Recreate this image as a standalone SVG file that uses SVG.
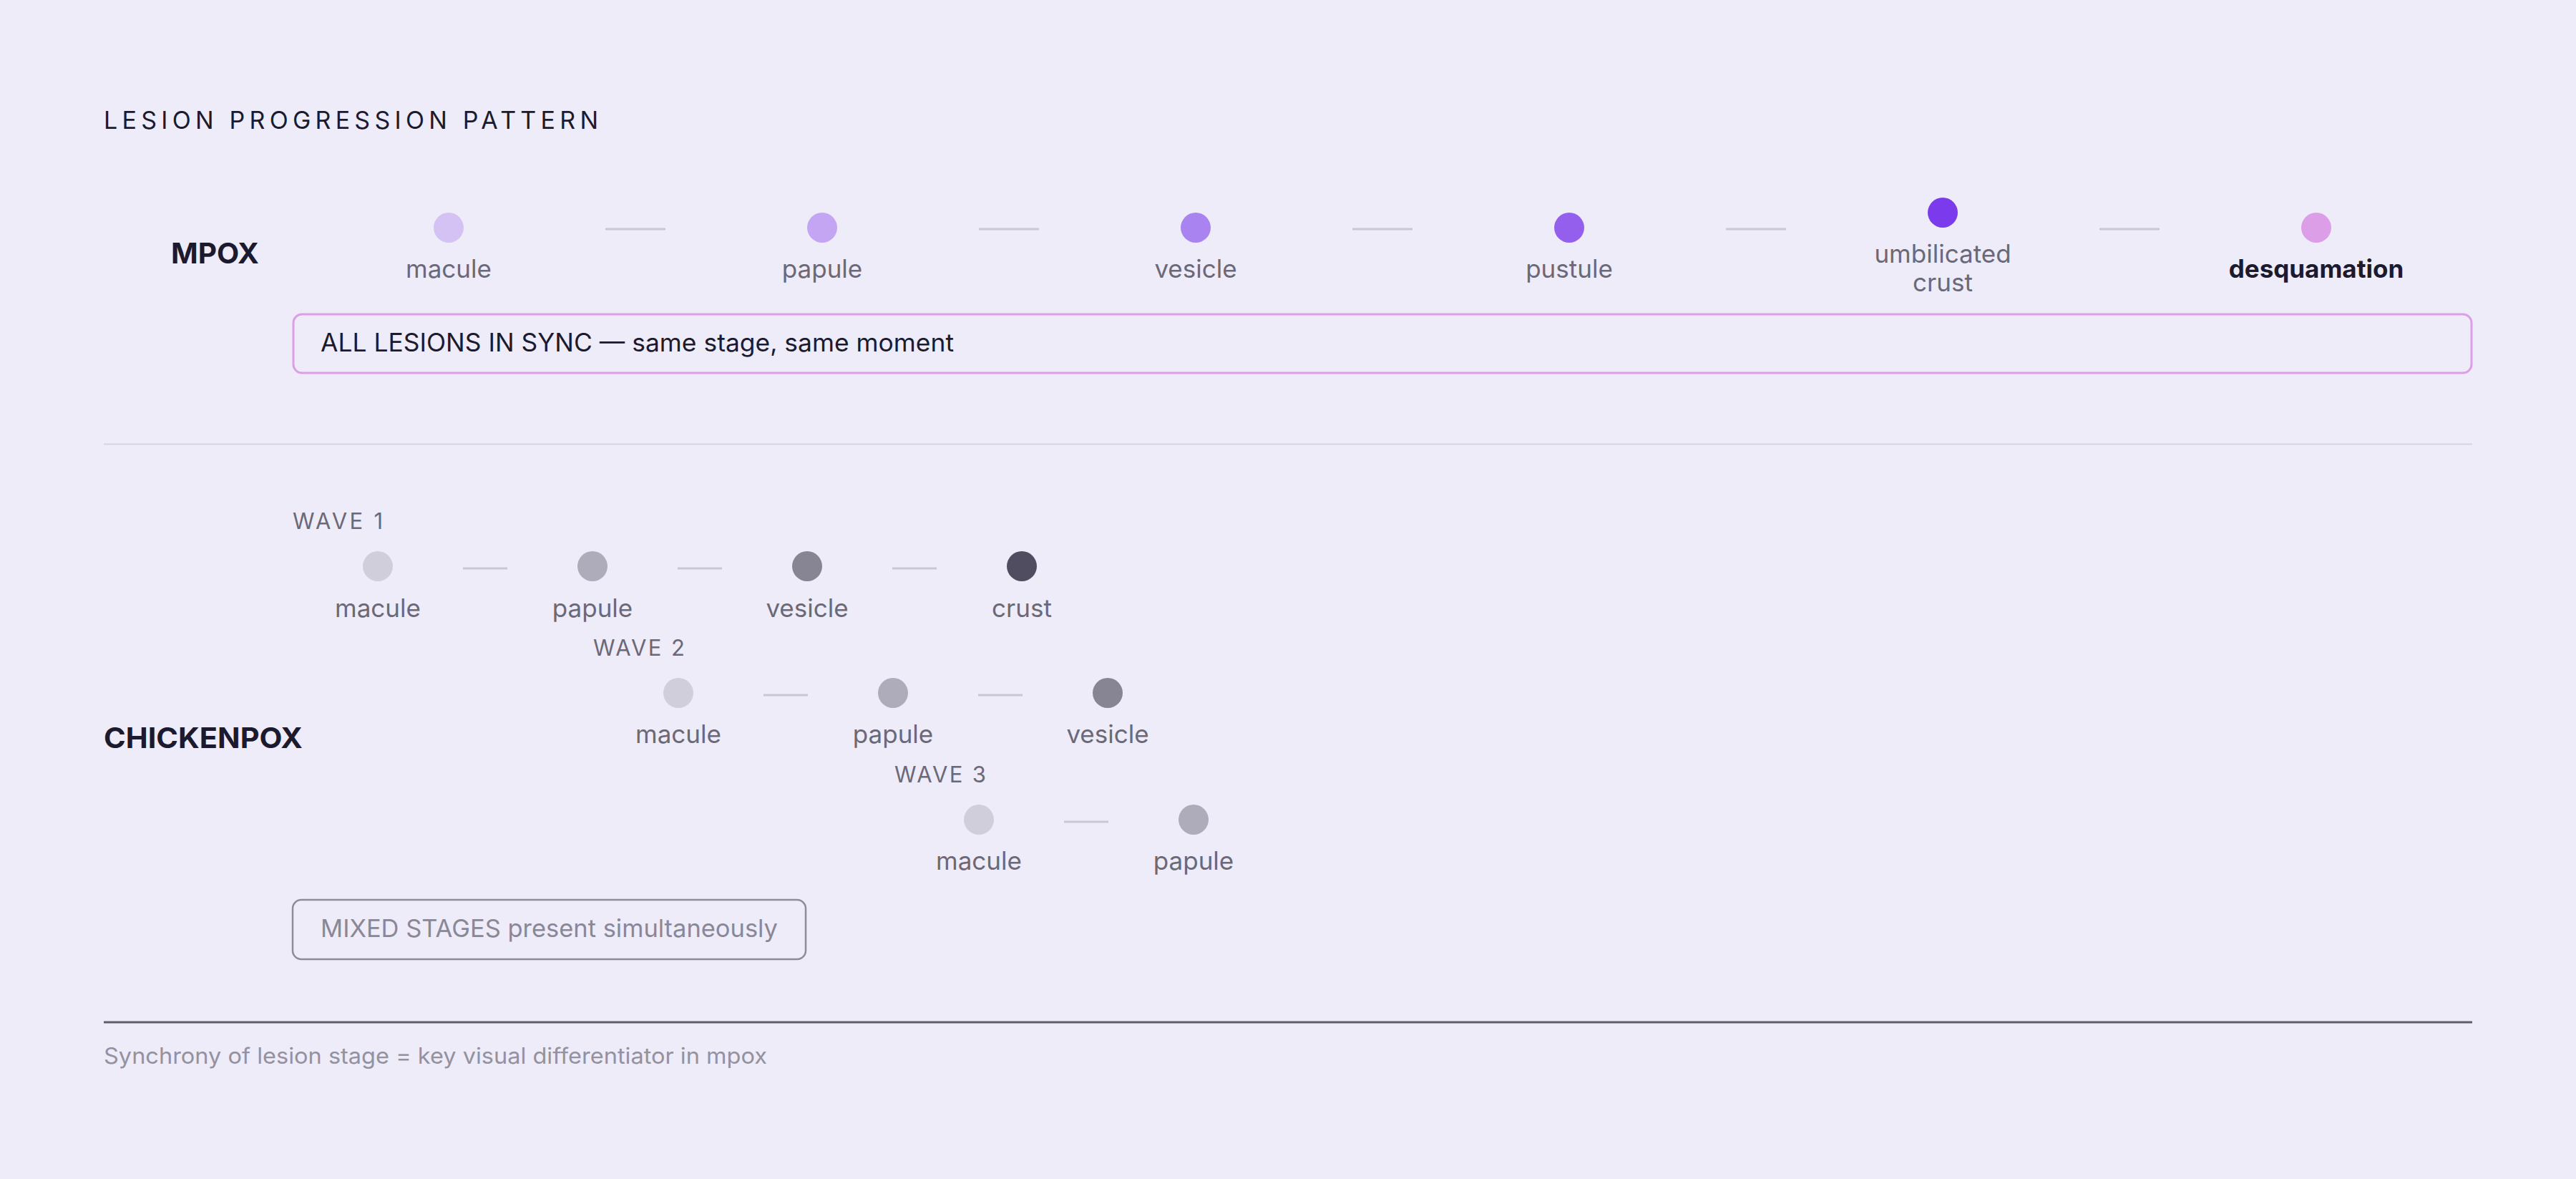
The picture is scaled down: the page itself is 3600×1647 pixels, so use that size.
<svg xmlns="http://www.w3.org/2000/svg" width="3600" height="1647" viewBox="0 0 3600 1647">
<style>
  text { font-family: Inter, "DejaVu Sans", sans-serif; }
  .title { font-size: 34px; fill: #1c1a2e; letter-spacing: 7px; }
  .row { font-size: 40px; font-weight: 700; fill: #1c1a2e; }
  .lbl { font-size: 35px; fill: #6b6878; text-anchor: middle; }
  .lblb { font-size: 35px; fill: #1c1a2e; font-weight: 700; text-anchor: middle; }
  .wave { font-size: 31px; fill: #6b6878; letter-spacing: 5px; }
  .conn { stroke: #c9c7d4; stroke-width: 3; }
  .boxtxt { font-size: 35px; fill: #1c1a2e; }
  .mixtxt { font-size: 34px; fill: #8a8796; }
  .foot { font-size: 31px; fill: #9491a0; }
</style>
<rect width="3600" height="1647" fill="#eeecf9"/>
<text class="title" x="145" y="180" textLength="698" lengthAdjust="spacing">LESION PROGRESSION PATTERN</text>

<g id="mpox-label"><text class="row" x="239" y="368" textLength="123" lengthAdjust="spacingAndGlyphs">MPOX</text></g>

<g id="connectors">
  <line class="conn" x1="846" y1="320" x2="930" y2="320"/>
  <line class="conn" x1="1368" y1="320" x2="1452" y2="320"/>
  <line class="conn" x1="1890" y1="320" x2="1974" y2="320"/>
  <line class="conn" x1="2412" y1="320" x2="2496" y2="320"/>
  <line class="conn" x1="2934" y1="320" x2="3018" y2="320"/>
  <line class="conn" x1="647" y1="794" x2="709" y2="794"/>
  <line class="conn" x1="947" y1="794" x2="1009" y2="794"/>
  <line class="conn" x1="1247" y1="794" x2="1309" y2="794"/>
  <line class="conn" x1="1067" y1="971" x2="1129" y2="971"/>
  <line class="conn" x1="1367" y1="971" x2="1429" y2="971"/>
  <line class="conn" x1="1487" y1="1148" x2="1549" y2="1148"/>
</g>

<g id="mpox-macule"><circle cx="627" cy="318" r="21" fill="#d4c2f5"/><text class="lbl" x="627" y="388">macule</text></g>
<g id="mpox-papule"><circle cx="1149" cy="318" r="21" fill="#c4a5f3"/><text class="lbl" x="1149" y="388">papule</text></g>
<g id="mpox-vesicle"><circle cx="1671" cy="318" r="21" fill="#a984f0"/><text class="lbl" x="1671" y="388">vesicle</text></g>
<g id="mpox-pustule"><circle cx="2193" cy="318" r="21" fill="#955fee"/><text class="lbl" x="2193" y="388">pustule</text></g>
<g id="mpox-umbilicated"><circle cx="2715" cy="297" r="21" fill="#7c3aed"/><text class="lbl" x="2715" y="367">umbilicated</text><text class="lbl" x="2715" y="407">crust</text></g>
<g id="mpox-desquamation"><circle cx="3237" cy="318" r="21" fill="#dd9ee8"/><text class="lblb" x="3237" y="388">desquamation</text></g>

<g id="mpox-sync-box">
  <rect x="410" y="439" width="3044" height="82" rx="12" fill="none" stroke="#dd9ee8" stroke-width="3"/>
  <text class="boxtxt" x="448" y="491" textLength="885" lengthAdjust="spacingAndGlyphs">ALL LESIONS IN SYNC — same stage, same moment</text>
</g>

<line x1="145" y1="620.5" x2="3455" y2="620.5" stroke="#d6d4e0" stroke-width="2"/>

<g id="chickenpox-label"><text class="row" x="145" y="1045" textLength="278" lengthAdjust="spacingAndGlyphs">CHICKENPOX</text></g>

<g id="wave1">
  <text class="wave" x="409" y="739" textLength="131" lengthAdjust="spacing">WAVE 1</text>
  <g id="w1-macule"><circle cx="528" cy="791" r="21" fill="#cfceda"/><text class="lbl" x="528" y="862">macule</text></g>
  <g id="w1-papule"><circle cx="828" cy="791" r="21" fill="#aeacba"/><text class="lbl" x="828" y="862">papule</text></g>
  <g id="w1-vesicle"><circle cx="1128" cy="791" r="21" fill="#878493"/><text class="lbl" x="1128" y="862">vesicle</text></g>
  <g id="w1-crust"><circle cx="1428" cy="791" r="21" fill="#514d60"/><text class="lbl" x="1428" y="862">crust</text></g>
</g>
<g id="wave2">
  <text class="wave" x="829" y="916" textLength="133" lengthAdjust="spacing">WAVE 2</text>
  <g id="w2-macule"><circle cx="948" cy="968" r="21" fill="#cfceda"/><text class="lbl" x="948" y="1038">macule</text></g>
  <g id="w2-papule"><circle cx="1248" cy="968" r="21" fill="#aeacba"/><text class="lbl" x="1248" y="1038">papule</text></g>
  <g id="w2-vesicle"><circle cx="1548" cy="968" r="21" fill="#878493"/><text class="lbl" x="1548" y="1038">vesicle</text></g>
</g>
<g id="wave3">
  <text class="wave" x="1250" y="1093" textLength="133" lengthAdjust="spacing">WAVE 3</text>
  <g id="w3-macule"><circle cx="1368" cy="1145" r="21" fill="#cfceda"/><text class="lbl" x="1368" y="1215">macule</text></g>
  <g id="w3-papule"><circle cx="1668" cy="1145" r="21" fill="#aeacba"/><text class="lbl" x="1668" y="1215">papule</text></g>
</g>

<g id="mixed-box">
  <rect x="409" y="1257" width="717" height="83" rx="12" fill="none" stroke="#8e8b9a" stroke-width="2.5"/>
  <text class="mixtxt" x="448" y="1309" textLength="639" lengthAdjust="spacingAndGlyphs">MIXED STAGES present simultaneously</text>
</g>

<line x1="145" y1="1428" x2="3455" y2="1428" stroke="#5f5c6c" stroke-width="3"/>
<text class="foot" x="145" y="1486" textLength="927" lengthAdjust="spacingAndGlyphs">Synchrony of lesion stage = key visual differentiator in mpox</text>
</svg>
